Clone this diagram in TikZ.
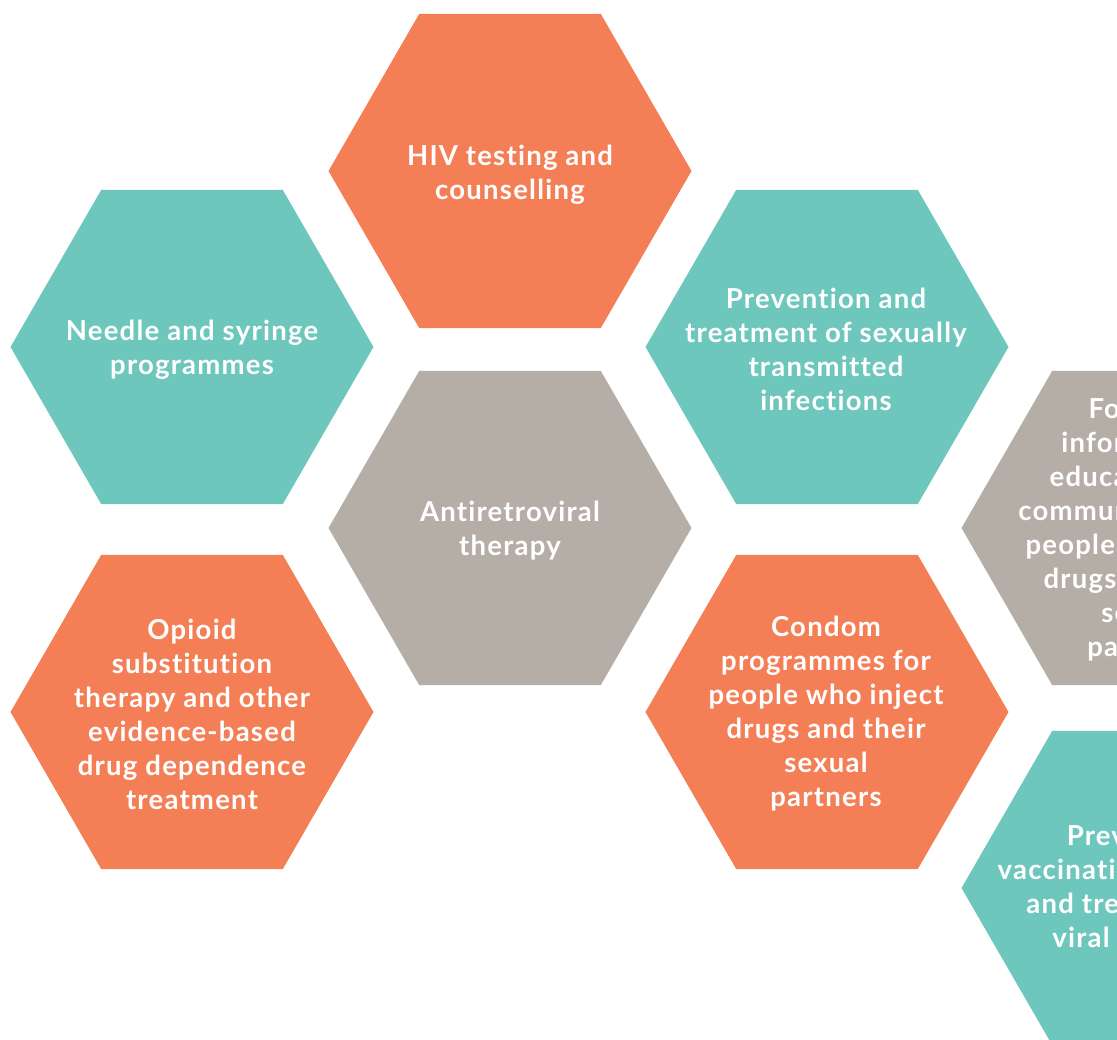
\documentclass[tikz,border=0pt]{standalone}
\usepackage{fontspec}
\setmainfont{Lato}[UprightFont=* Bold, LetterSpace=4.5, Ligatures=NoCommon]
\usetikzlibrary{calc}
\definecolor{hexorange}{RGB}{244,127,87}
\definecolor{hexteal}{RGB}{110,199,189}
\definecolor{hexgray}{RGB}{181,174,167}
\tikzset{
  hextext/.style={text=white, align=center, font=\fontsize{27.5}{34}\selectfont, inner sep=0pt}
}
\newcommand{\hexagonfill}[2]{%
  \fill[#2] ($(#1)+(0:181.5)$) -- ($(#1)+(60:181.5)$) -- ($(#1)+(120:181.5)$) --
    ($(#1)+(180:181.5)$) -- ($(#1)+(240:181.5)$) -- ($(#1)+(300:181.5)$) -- cycle;}
\begin{document}
\begin{tikzpicture}[x=1pt,y=-1pt]
\useasboundingbox (0,0) rectangle (1117,1040);
\clip (0,0) rectangle (1117,1040);
\coordinate (chiv) at (510,171);
\coordinate (cneedle) at (192,347);
\coordinate (csti) at (827,347);
\coordinate (cart) at (510,528);
\coordinate (copioid) at (192,712);
\coordinate (ccondom) at (827,712);
\coordinate (cfocus) at (1143,528);
\coordinate (chep) at (1143,888);
\hexagonfill{chiv}{hexorange}
\hexagonfill{cneedle}{hexteal}
\hexagonfill{csti}{hexteal}
\hexagonfill{cart}{hexgray}
\hexagonfill{copioid}{hexorange}
\hexagonfill{ccondom}{hexorange}
\hexagonfill{cfocus}{hexgray}
\hexagonfill{chep}{hexteal}
\node[hextext] (thiv) at ($(chiv)+(0,4)$) {HIV testing and\\counselling};
\node[hextext] (tneedle) at ($(cneedle)+(0,3)$) {Needle and syringe\\programmes};
\node[hextext] (tsti) at ($(csti)+(-1,2)$) {Prevention and\\treatment of sexually\\transmitted\\infections};
\node[hextext] (tart) at ($(cart)+(0,3)$) {Antiretroviral\\therapy};
\node[hextext] (topioid) at ($(copioid)+(0,2)$) {Opioid\\substitution\\therapy and other\\evidence-based\\drug dependence\\treatment};
\node[hextext] (tcondom) at ($(ccondom)+(-1,2)$) {Condom\\programmes for\\people who inject\\drugs and their\\sexual\\partners};
\node[hextext] (tfocus) at ($(cfocus)+(0,2)$) {Focused\\information,\\education and\\communication for\\people who inject\\drugs and their\\sexual\\partners};
\node[hextext] (thep) at ($(chep)+(0,1)$) {Prevention,\\vaccination, diagnosis\\and treatment for\\viral hepatitis};
\end{tikzpicture}
\end{document}
